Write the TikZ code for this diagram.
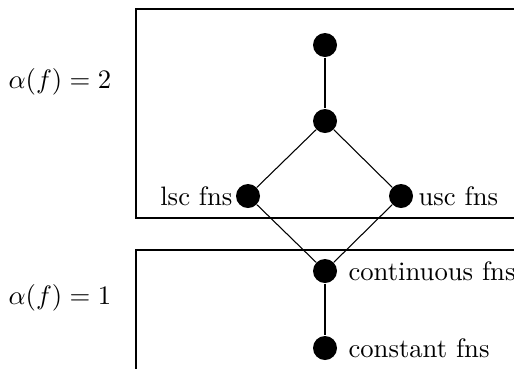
\documentclass[tikz,border=0pt]{standalone}
\begin{document}
\begin{tikzpicture}[x=0.375pt,y=-0.375pt,
  dot/.style={circle,fill=black,inner sep=0pt,minimum size=9pt},
  boxline/.style={draw=black,line width=0.5pt},
  edge/.style={draw=black,line width=0.4pt}]
\useasboundingbox (0,0) rectangle (514,369);
\draw[boxline] (514,9) -- (136,9) -- (136,218) -- (514,218);
\draw[boxline] (514,250) -- (136,250) -- (136,369);
\node[dot] (top) at (325,45) {};
\node[dot] (mid) at (325,121) {};
\node[dot] (lsc) at (248,196) {};
\node[dot] (usc) at (401,196) {};
\node[dot] (cont) at (325,271) {};
\node[dot] (const) at (325,348) {};
\draw[edge] (top) -- (mid);
\draw[edge] (mid) -- (lsc);
\draw[edge] (mid) -- (usc);
\draw[edge] (lsc) -- (cont);
\draw[edge] (usc) -- (cont);
\draw[edge] (cont) -- (const);
\node[anchor=east,inner sep=0pt] (lsclab) at (233,196) {lsc fns};
\node[anchor=west,inner sep=0pt] (usclab) at (418,196) {usc fns};
\node[anchor=west,inner sep=0pt] (contlab) at (348,271) {continuous fns};
\node[anchor=west,inner sep=0pt] (constlab) at (348,348) {constant fns};
\node[anchor=west,inner sep=0pt] (a2) at (8,82) {$\alpha(f)=2$};
\node[anchor=west,inner sep=0pt] (a1) at (8,298) {$\alpha(f)=1$};
\end{tikzpicture}
\end{document}
